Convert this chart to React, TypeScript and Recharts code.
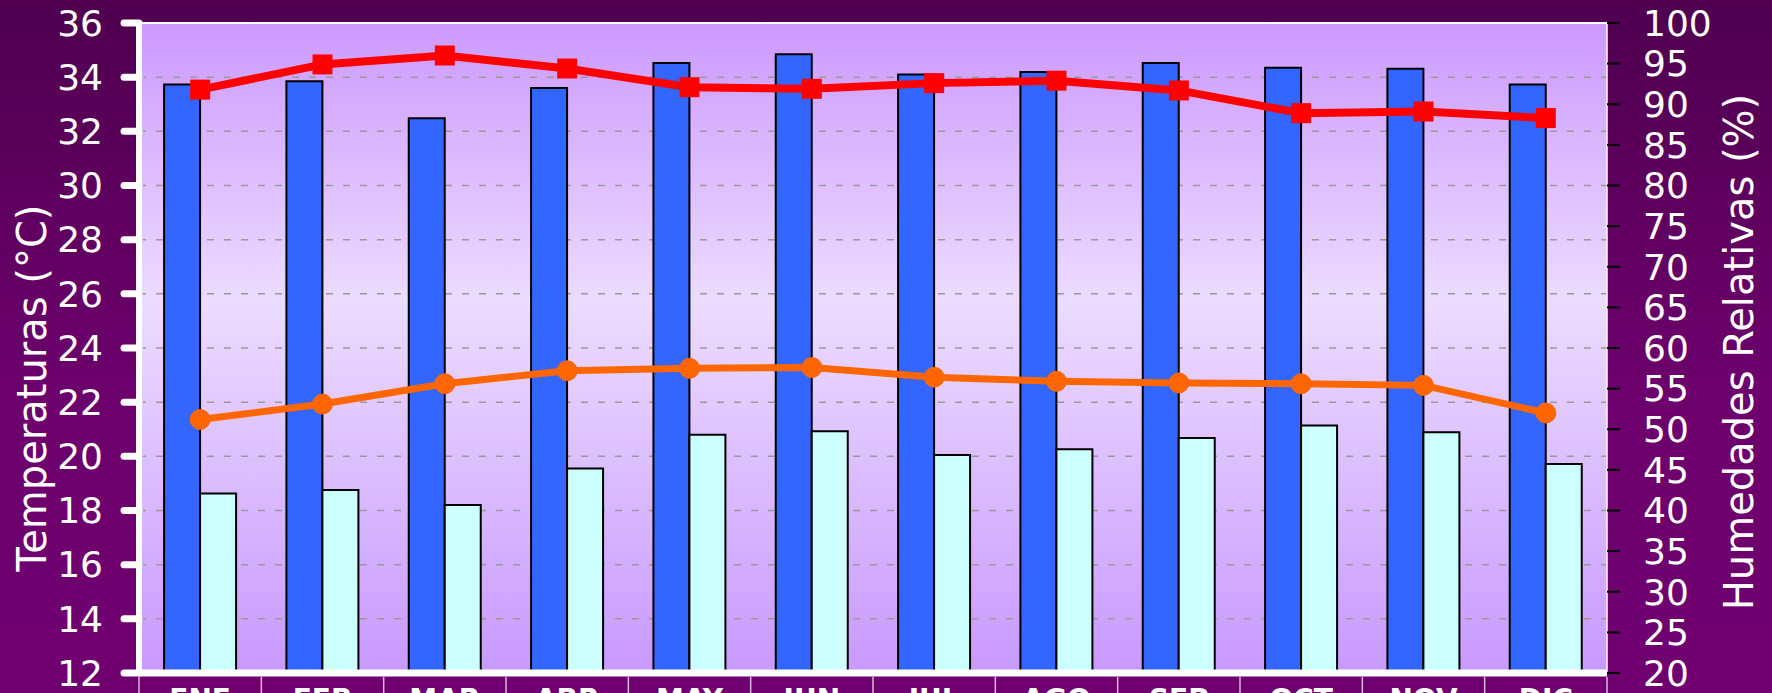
import { ComposedChart, Bar, Line, XAxis, YAxis, CartesianGrid, ReferenceLine } from 'recharts';

const months = ['ENE', 'FEB', 'MAR', 'ABR', 'MAY', 'JUN', 'JUL', 'AGO', 'SEP', 'OCT', 'NOV', 'DIC'];
const tempMax = [33.73, 33.85, 32.48, 33.6, 34.52, 34.85, 34.1, 34.19, 34.52, 34.35, 34.31, 33.73];
const tempMin = [18.63, 18.76, 18.2, 19.55, 20.8, 20.93, 20.05, 20.26, 20.68, 21.14, 20.89, 19.72];
const humMax = [91.8, 94.9, 96.0, 94.4, 92.1, 91.9, 92.6, 92.9, 91.7, 88.9, 89.1, 88.3];
const humMin = [51.2, 53.1, 55.6, 57.2, 57.5, 57.6, 56.4, 55.9, 55.7, 55.6, 55.4, 52.0];
const leftTicks = [12, 14, 16, 18, 20, 22, 24, 26, 28, 30, 32, 34, 36];
const rightTicks = [20, 25, 30, 35, 40, 45, 50, 55, 60, 65, 70, 75, 80, 85, 90, 95, 100];

const data = months.map((m, i) => ({
  month: m,
  tmax: tempMax[i],
  tmin: tempMin[i],
  hmax: humMax[i],
  hmin: humMin[i],
}));

const W = 1772;
const H = 693;
const PLOT_LEFT = 139;
const PLOT_RIGHT = 1607;
const BAND = (PLOT_RIGHT - PLOT_LEFT) / months.length;
const FONT = 'DejaVu Sans';

function MonthTick(props: any) {
  const { x, payload, index } = props;
  const left = x - BAND / 2;
  return (
    <g>
      <line x1={left} y1={677} x2={left} y2={H} stroke="#d8b8d8" strokeWidth={1.5} />
      {index === months.length - 1 && (
        <line x1={left + BAND} y1={677} x2={left + BAND} y2={H} stroke="#d8b8d8" strokeWidth={1.5} />
      )}
      <text x={x} y={709} textAnchor="middle" fill="#fff" fontSize={28} fontWeight="bold" fontFamily={FONT}>
        {payload.value}
      </text>
    </g>
  );
}

function SquareDot(props: any) {
  const { cx, cy, index } = props;
  return <rect key={`sq-${index}`} x={cx - 10} y={cy - 10} width={20} height={20} fill="#ff0000" />;
}

export default function App() {
  return (
    <div style={{ width: W, height: H, background: 'linear-gradient(#4f004f 0%, #6c006c 55%, #700070 100%)' }}>
      <style>{'body{margin:0;overflow:hidden}'}</style>
      <ComposedChart
        width={W}
        height={H}
        data={data}
        margin={{ top: 23, right: 0, bottom: 0, left: 0 }}
        barCategoryGap="20.5%"
        barGap={0}
      >
        <defs>
          <linearGradient id="plotGrad" x1="0" y1="0" x2="0" y2="1">
            <stop offset="0%" stopColor="#cc99ff" />
            <stop offset="43%" stopColor="#ecdcff" />
            <stop offset="100%" stopColor="#c899ff" />
          </linearGradient>
        </defs>
        <CartesianGrid
          yAxisId="left"
          vertical={false}
          fill="url(#plotGrad)"
          fillOpacity={1}
          stroke="#999999"
          strokeWidth={1.5}
          strokeDasharray="7 10"
        />
        <XAxis
          dataKey="month"
          height={20}
          axisLine={{ stroke: '#fff', strokeWidth: 7 }}
          tickLine={false}
          tick={<MonthTick />}
          interval={0}
        />
        <YAxis
          yAxisId="left"
          orientation="left"
          width={PLOT_LEFT}
          domain={[12, 36]}
          ticks={leftTicks}
          interval={0}
          axisLine={{ stroke: '#fff', strokeWidth: 6 }}
          tickLine={{ stroke: '#fff', strokeWidth: 7, strokeLinecap: 'round' }}
          tickSize={15}
          tickMargin={21}
          tick={{ fill: '#fff', fontSize: 36, fontFamily: FONT }}
        />
        <YAxis
          yAxisId="right"
          orientation="right"
          width={W - PLOT_RIGHT}
          domain={[20, 100]}
          ticks={rightTicks}
          interval={0}
          axisLine={{ stroke: '#fff', strokeWidth: 1.5 }}
          tickLine={{ stroke: '#000', strokeWidth: 2 }}
          tickSize={13}
          tickMargin={23}
          tick={{ fill: '#fff', fontSize: 36, fontFamily: FONT }}
        />
        <ReferenceLine yAxisId="left" y={36} stroke="#fff" strokeWidth={2} />
        <Bar yAxisId="left" dataKey="tmax" fill="#3366ff" stroke="#000" strokeWidth={2} isAnimationActive={false} />
        <Bar yAxisId="left" dataKey="tmin" fill="#ccffff" stroke="#000" strokeWidth={2} isAnimationActive={false} />
        <Line
          yAxisId="right"
          type="linear"
          dataKey="hmax"
          stroke="#ff0000"
          strokeWidth={8}
          dot={<SquareDot />}
          activeDot={false}
          isAnimationActive={false}
        />
        <Line
          yAxisId="right"
          type="linear"
          dataKey="hmin"
          stroke="#ff6600"
          strokeWidth={7}
          dot={{ r: 10, fill: '#ff6600', stroke: '#ff6600', strokeWidth: 1 }}
          activeDot={false}
          isAnimationActive={false}
        />
        <text
          transform="translate(32, 388) rotate(-90)"
          textAnchor="middle"
          dominantBaseline="central"
          fill="#fff"
          fontSize={40}
          fontFamily={FONT}
        >
          Temperaturas (°C)
        </text>
        <text
          transform="translate(1739, 352) rotate(-90)"
          textAnchor="middle"
          dominantBaseline="central"
          fill="#fff"
          fontSize={40}
          fontFamily={FONT}
        >
          Humedades Relativas (%)
        </text>
      </ComposedChart>
    </div>
  );
}
